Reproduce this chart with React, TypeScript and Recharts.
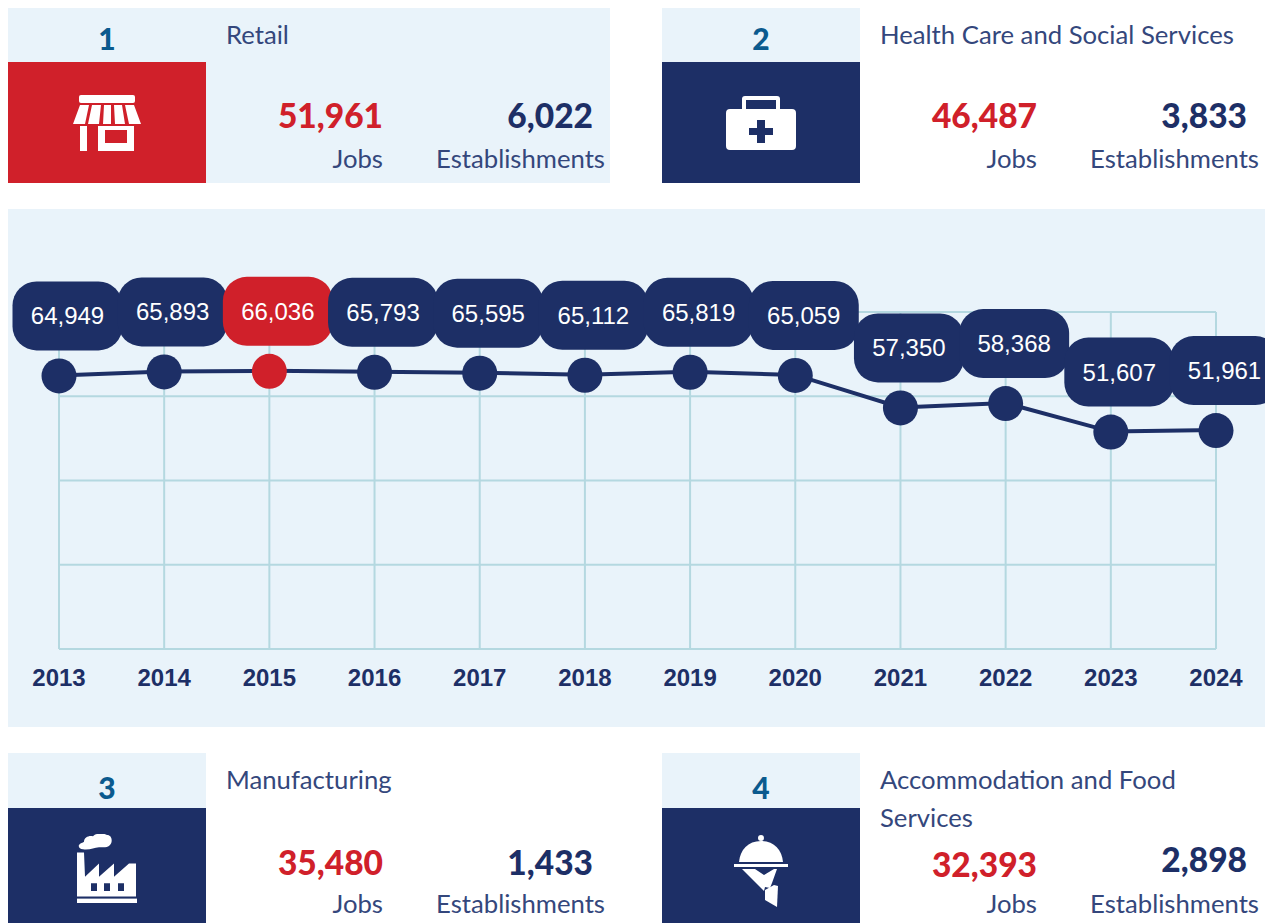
import React from 'react';
import { LineChart, Line, XAxis, YAxis, CartesianGrid, LabelList } from 'recharts';

const years = ['2013', '2014', '2015', '2016', '2017', '2018', '2019', '2020', '2021', '2022', '2023', '2024'];
const jobs = [64949, 65893, 66036, 65793, 65595, 65112, 65819, 65059, 57350, 58368, 51607, 51961];
const yTicks = [0, 20000, 40000, 60000, 80000];
const highlightYear = '2015';

const sectorNames = ['Retail', 'Health Care and Social Services', 'Manufacturing', 'Accommodation and Food Services'];
const sectorJobs = ['51,961', '46,487', '35,480', '32,393'];
const sectorEstablishments = ['6,022', '3,833', '1,433', '2,898'];

const chartData = years.map((year, i) => ({ year, jobs: jobs[i] }));

const NAVY = '#1d2f66';
const RED = '#d0202a';
const PANEL = '#e9f3fa';
const GRID = '#b4d8e0';
const TEXT = '#34477c';
const FONT = 'Lato, sans-serif';

const isHighlight = (i: number) => years[i] === highlightYear;

function PointDot(props: any) {
    const { cx, cy, index } = props;
    return <circle key={index} cx={cx} cy={cy + 0.5} r={17.5} fill={isHighlight(index) ? RED : NAVY} />;
}

function PillLabel(props: any) {
    const { x, y, value, index } = props;
    const cx = x + 8.5;
    const cy = y - 59.5;
    return (
        <g>
            <rect x={cx - 55} y={cy - 34.5} width={110} height={69} rx={24} fill={isHighlight(index) ? RED : NAVY} />
            <text x={cx} y={cy + 8.5} textAnchor="middle" fill="#fff" fontSize={24} fontFamily="Liberation Sans, Arial, sans-serif">
                {Number(value).toLocaleString('en-US')}
            </text>
        </g>
    );
}

function StoreIcon() {
    return (
        <svg width={70} height={56} viewBox="0 0 70 56" fill="#fff">
            <rect x={7} y={0} width={56} height={8} rx={2} />
            <path d="M8 10h9l-4 19H1zM20 10h9l-2 19H16zM32 10h7v19H31zM42 10h8l3 19H43zM53 10h9l7 19H57z" />
            <rect x={8} y={31} width={7} height={25} />
            <path fillRule="evenodd" d="M26 31h36v25H26zM33 35v13h22V35z" />
        </svg>
    );
}

function MedkitIcon() {
    return (
        <svg width={70} height={54} viewBox="0 0 70 54" fill="#fff">
            <path fillRule="evenodd" d="M19 0h32a3 3 0 0 1 3 3v10h-4V4H20v9h-4V3a3 3 0 0 1 3-3z" />
            <path fillRule="evenodd" d="M4 13h62a4 4 0 0 1 4 4v33a4 4 0 0 1-4 4H4a4 4 0 0 1-4-4V17a4 4 0 0 1 4-4zM31 24v8h-8v7h8v8h8v-8h8v-7h-8v-8z" />
        </svg>
    );
}

function FactoryIcon() {
    return (
        <svg width={60} height={69} viewBox="0 7 60 63" preserveAspectRatio="none" fill="#fff">
            <path d="M6 21c-3 0-5-2-4-4 1-2 4-2 5-3 0-4 5-6 9-5 3-3 11-3 14-1 5 0 6 6 3 9-3 3-8 2-11 2-5 0-9 3-16 2z" />
            <path fillRule="evenodd" d="M0 24h7l1 22 14-12v12l15-12v12l15-12 7 0v30H0zM14 52v7h6v-7zM27 52v7h6v-7zM41 52v7h6v-7z" />
            <rect x={0} y={66} width={60} height={4} />
        </svg>
    );
}

function ClocheIcon() {
    return (
        <svg width={54} height={72} viewBox="0 0 54 72" fill="#fff">
            <circle cx={27} cy={3} r={3} />
            <path d="M27 6c-13 0-21 9-22 21h44C48 15 40 6 27 6z" />
            <rect x={0} y={29} width={54} height={3} />
            <path d="M8 34h13l9 6 10-6 3 0-5 14-2 5-5-1-1 4z" />
            <path d="M31 55l9-5 4 1-1 21-12-7z" />
        </svg>
    );
}

const icons = [<StoreIcon />, <MedkitIcon />, <FactoryIcon />, <ClocheIcon />];

const abs = (left: number, top: number, extra: React.CSSProperties = {}): React.CSSProperties => ({
    position: 'absolute',
    left,
    top,
    ...extra
});

type CardProps = {
    index: number;
    left: number;
    top: number;
    headerH: number;
    boxH: number;
    filled?: boolean;
    jobsY: number;
    estY: number;
    labelY: number;
    rankY: number;
    iconShift?: number;
};

function SectorCard({ index, left, top, headerH, boxH, filled, jobsY, estY, labelY, rankY, iconShift = 0 }: CardProps) {
    const jobsRight = left + 375;
    const estRight = left + 585;
    const labelRight = left + 597;
    const textStyle: React.CSSProperties = { fontFamily: FONT, color: TEXT, fontSize: 25.7, whiteSpace: 'nowrap', lineHeight: '38px' };
    const numStyle: React.CSSProperties = { fontFamily: FONT, fontWeight: 900, fontSize: 33.5, lineHeight: '40px', whiteSpace: 'nowrap' };
    return (
        <>
            {filled && <div style={abs(left, top, { width: 602, height: headerH + boxH, background: PANEL })} />}
            <div style={abs(left, top, { width: 198, height: headerH, background: PANEL })} />
            <div style={abs(left, top + headerH, { width: 198, height: boxH, background: index === 0 ? RED : NAVY, display: 'flex', alignItems: 'center', justifyContent: 'center' })}>
                <div style={{ transform: `translate(0, ${iconShift}px)`, lineHeight: 0 }}>{icons[index]}</div>
            </div>
            <div style={abs(left, rankY - 20, { width: 198, textAlign: 'center', fontFamily: FONT, fontWeight: 900, fontSize: 30, lineHeight: '40px', color: '#0b5a8e' })}>
                {index + 1}
            </div>
            <div style={abs(left + 218, top + 7, { ...textStyle, width: 370, whiteSpace: 'normal' })}>{sectorNames[index]}</div>
            <div style={abs(0, jobsY - 21, { ...numStyle, width: jobsRight, textAlign: 'right', color: RED })}>{sectorJobs[index]}</div>
            <div style={abs(0, estY - 21, { ...numStyle, width: estRight, textAlign: 'right', color: NAVY })}>{sectorEstablishments[index]}</div>
            <div style={abs(0, labelY - 20, { ...textStyle, width: jobsRight, textAlign: 'right' })}>Jobs</div>
            <div style={abs(0, labelY - 20, { ...textStyle, width: labelRight, textAlign: 'right' })}>Establishments</div>
        </>
    );
}

export default function App() {
    return (
        <div style={{ position: 'absolute', left: 0, top: 0, width: 1282, height: 923, overflow: 'hidden', background: '#fff' }}>
            <SectorCard index={0} left={8} top={8} headerH={54} boxH={121} filled jobsY={116} estY={116} labelY={159} rankY={38} />
            <SectorCard index={1} left={662} top={8} headerH={54} boxH={121} jobsY={116} estY={116} labelY={159} rankY={38} />
            <SectorCard index={2} left={8} top={753} headerH={55} boxH={170} jobsY={863} estY={863} labelY={904} rankY={787} iconShift={-25} />
            <SectorCard index={3} left={662} top={753} headerH={55} boxH={170} jobsY={865} estY={860} labelY={904} rankY={787} iconShift={-22} />

            <div style={abs(8, 209, { width: 1257, height: 518, background: PANEL })}>
                <LineChart
                    width={1257}
                    height={518}
                    data={chartData}
                    margin={{ top: 103, right: 49, left: 51, bottom: 0 }}
                    style={{ overflow: 'visible' }}
                >
                    <CartesianGrid stroke={GRID} strokeWidth={2} />
                    <XAxis
                        dataKey="year"
                        scale="point"
                        padding={{ left: 0, right: 0 }}
                        axisLine={false}
                        tickLine={false}
                        interval={0}
                        tick={{ fill: NAVY, fontSize: 24, fontWeight: 700, fontFamily: 'Liberation Sans, Arial, sans-serif' }}
                        tickMargin={14}
                        height={78}
                    />
                    <YAxis hide domain={[0, 80000]} ticks={yTicks} />
                    <Line
                        dataKey="jobs"
                        stroke={NAVY}
                        strokeWidth={4}
                        type="linear"
                        dot={PointDot}
                        activeDot={false}
                        isAnimationActive={false}
                    >
                        <LabelList dataKey="jobs" content={PillLabel} />
                    </Line>
                </LineChart>
            </div>
        </div>
    );
}
